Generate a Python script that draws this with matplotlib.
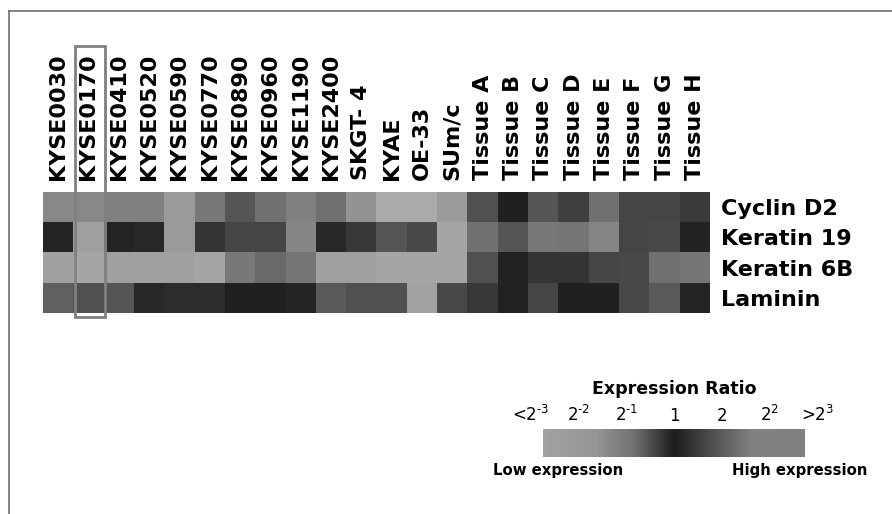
import matplotlib
matplotlib.use("Agg")
import matplotlib.pyplot as plt
import numpy as np
from matplotlib.colors import LinearSegmentedColormap
from matplotlib.lines import Line2D
from matplotlib.patches import Rectangle

plt.rcParams["mathtext.fontset"] = "dejavusans"

samples = [
    "KYSE0030", "KYSE0170", "KYSE0410", "KYSE0520", "KYSE0590", "KYSE0770",
    "KYSE0890", "KYSE0960", "KYSE1190", "KYSE2400", "SKGT- 4", "KYAE",
    "OE-33", "SUm/c", "Tissue A", "Tissue B", "Tissue C", "Tissue D",
    "Tissue E", "Tissue F", "Tissue G", "Tissue H",
]
genes = ["Cyclin D2", "Keratin 19", "Keratin 6B", "Laminin"]

# grey level of each cell as printed (0 = black, 255 = white)
cyclin_d2 = [0x88, 0x88, 0x80, 0x80, 0x9a, 0x78, 0x55, 0x70, 0x80, 0x70, 0x94,
             0xaa, 0xaa, 0x9a, 0x50, 0x20, 0x55, 0x40, 0x70, 0x45, 0x45, 0x3a]
keratin_19 = [0x25, 0xa0, 0x25, 0x28, 0x9a, 0x35, 0x45, 0x45, 0x85, 0x28, 0x38,
              0x55, 0x48, 0xa5, 0x70, 0x55, 0x78, 0x75, 0x85, 0x45, 0x48, 0x22]
keratin_6b = [0xa0, 0xa5, 0xa0, 0xa0, 0xa0, 0xa5, 0x78, 0x6a, 0x75, 0xa0, 0xa0,
              0xa5, 0xa5, 0xa5, 0x50, 0x22, 0x35, 0x35, 0x45, 0x48, 0x70, 0x75]
laminin = [0x60, 0x50, 0x55, 0x28, 0x2c, 0x2c, 0x20, 0x20, 0x25, 0x5a, 0x50,
           0x50, 0xa2, 0x48, 0x38, 0x22, 0x45, 0x20, 0x20, 0x48, 0x5a, 0x25]

ratio_ticks = [-3, -2, -1, 0, 1, 2, 3]
ratio_labels = ["<$2^{\u20103}$", "$2^{\u20102}$", "$2^{\u20101}$", "1", "2",
                "$2^{2}$", ">$2^{3}$"]
highlight = 1

W, H = 892, 514
fig = plt.figure(figsize=(W / 100, H / 100), dpi=100)


def fbox(x0, y0, x1, y1):
    return [x0 / W, 1 - y1 / H, (x1 - x0) / W, (y1 - y0) / H]


grid = np.array([cyclin_d2, keratin_19, keratin_6b, laminin])
ax = fig.add_axes(fbox(43, 192, 710, 313))
ax.imshow(grid, cmap="gray", vmin=0, vmax=255, aspect="auto", interpolation="nearest")
ax.set_xticks(range(len(samples)))
ax.set_xticklabels(samples, rotation=90, fontsize=16, fontweight="bold")
ax.xaxis.tick_top()
ax.set_yticks(range(len(genes)))
ax.set_yticklabels(genes, fontsize=16, fontweight="bold")
ax.yaxis.tick_right()
ax.tick_params(length=0, pad=8)
ax.tick_params(axis="x", pad=9)
for s in ax.spines.values():
    s.set_visible(False)
ax.add_patch(Rectangle((highlight - 0.45, -5.33), 0.98, 8.96, fill=False,
                       edgecolor="#808080", lw=2, clip_on=False))

# colour key
key_cmap = LinearSegmentedColormap.from_list(
    "key", [(0, "#a2a2a4"), (0.2, "#959597"), (0.35, "#707072"), (0.5, "#1e1c1c"),
            (0.65, "#505052"), (0.8, "#828284"), (1, "#808082")])
cax = fig.add_axes(fbox(543, 429, 805, 457))
cax.imshow(np.linspace(0, 1, 256)[None, :], cmap=key_cmap, aspect="auto",
           extent=[-2.8, 2.8, 0, 1])
cax.set_xlim(-2.8, 2.8)
cax.set_ylim(0, 1)
cax.axis("off")
for t, lab in zip(ratio_ticks, ratio_labels):
    cax.text(t * 1.02, 1.15, lab, ha="center", va="bottom", fontsize=12, clip_on=False)
cax.text(0, 2.1, "Expression Ratio", ha="center", va="bottom", fontsize=12.5,
         fontweight="bold", clip_on=False)
fig.text(493 / W, 1 - 470 / H, "Low expression", ha="left", va="center",
         fontsize=10.7, fontweight="bold")
fig.text(867 / W, 1 - 470 / H, "High expression", ha="right", va="center",
         fontsize=10.7, fontweight="bold")

# frame
fig.add_artist(Line2D([9 / W, 9 / W], [0, 1 - 11 / H], transform=fig.transFigure,
                      color="#707070", lw=1.2))
fig.add_artist(Line2D([9 / W, 1], [1 - 11 / H, 1 - 11 / H], transform=fig.transFigure,
                      color="#707070", lw=1.2))

fig.savefig("out.png", dpi=100)
